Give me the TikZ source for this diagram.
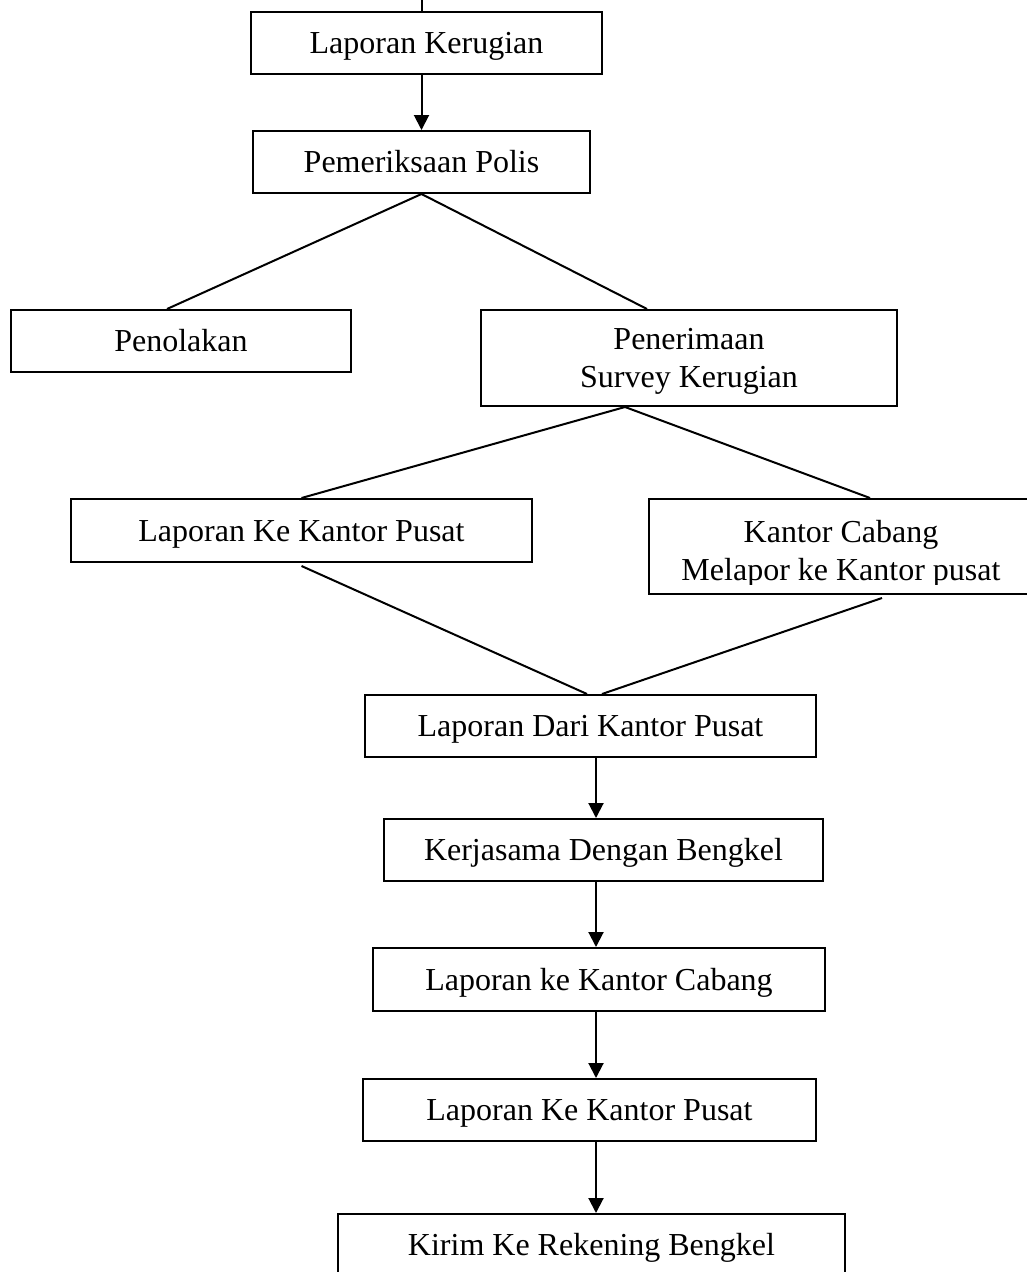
\documentclass[tikz,border=0pt]{standalone}
\usepackage{fontspec}
\setmainfont{Liberation Serif}
\usetikzlibrary{arrows.meta, calc}
\tikzset{
    box/.style={rectangle, draw=black, line width=2pt, align=center, inner sep=0pt,
        font=\fontsize{32}{38}\selectfont, text height=21pt, text depth=0pt,
        minimum height=62pt},
    twoline/.style={text height=59pt, text depth=0pt},
    arrow/.style={-{Triangle[length=15pt, width=15pt]}, line width=2pt},
    link/.style={line width=2pt},
}
\begin{document}
\begin{tikzpicture}[x=1pt, y=-1pt]
    \useasboundingbox (0,0) rectangle (1027,1272);
    \coordinate (stub) at (422,0);
    \coordinate (axis) at (596,0);
    % top of the flow
    \node[box, minimum width=351pt] (lk) at (426.5,43) {Laporan Kerugian};
    \node[box, minimum width=337pt] (pp) at (421.5,162) {Pemeriksaan Polis};
    \node[box, minimum width=340pt] (pen) at (181,341) {Penolakan};
    \node[box, twoline, minimum width=416pt, minimum height=96pt] (ps) at (689,358) {Penerimaan\\Survey Kerugian};
    \node[box, minimum width=461pt, minimum height=63pt] (lkp) at (301.5,530.5) {Laporan Ke Kantor Pusat};
    \node[box, minimum width=384pt, minimum height=95pt] (kc) at (841,546.5) {};
    \begin{scope}
        \clip (kc.north west) rectangle ([yshift=11pt]kc.south east);
        \node[box, twoline, draw=none] (kctext) at ([yshift=-4pt]kc.center) {Kantor Cabang\\Melapor ke Kantor pusat};
    \end{scope}
    % middle and bottom
    \node[box, minimum width=451pt] (ldkp) at (590.5,726) {Laporan Dari Kantor Pusat};
    \node[box, minimum width=439pt] (kdb) at (603.5,850) {Kerjasama Dengan Bengkel};
    \node[box, minimum width=452pt, minimum height=63pt] (lkc) at (599,979.5) {Laporan ke Kantor Cabang};
    \node[box, minimum width=453pt] (lkp2) at (589.5,1110) {Laporan Ke Kantor Pusat};
    \node[box, minimum width=507pt] (krb) at (591.5,1245) {Kirim Ke Rekening Bengkel};

    \draw[link] (stub) -- (stub |- lk.north);
    \draw[arrow] (pp.north |- lk.south) -- (pp.north);
    \draw[link] ([xshift=-14pt]pen.north) -- (pp.south) -- ([xshift=-42pt]ps.north);
    \draw[link] (lkp.north) -- ([xshift=-64pt]ps.south) -- ([xshift=29pt]kc.north);
    \draw[link] ([yshift=-3pt]lkp.south) -- ([xshift=-3.5pt]ldkp.north);
    \draw[link] ([xshift=41pt, yshift=-3pt]kc.south) -- ([xshift=11.5pt]ldkp.north);
    \draw[arrow] (ldkp.south -| axis) -- (kdb.north -| axis);
    \draw[arrow] (kdb.south -| axis) -- (lkc.north -| axis);
    \draw[arrow] (lkc.south -| axis) -- (lkp2.north -| axis);
    \draw[arrow] (lkp2.south -| axis) -- (krb.north -| axis);
\end{tikzpicture}
\end{document}
